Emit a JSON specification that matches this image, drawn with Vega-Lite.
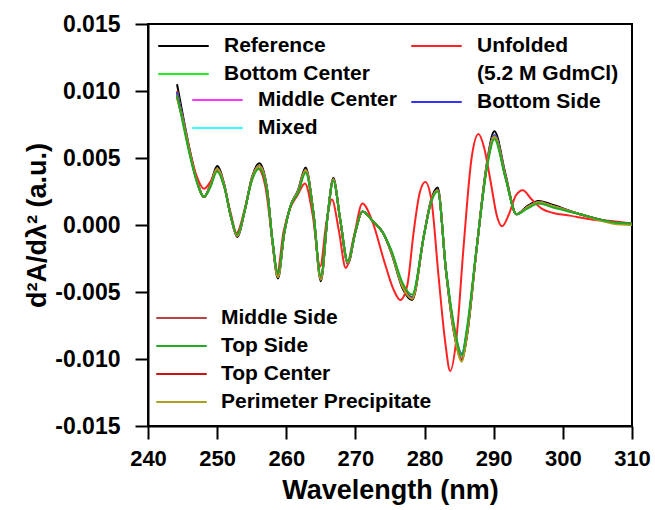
{
  "$schema": "https://vega.github.io/schema/vega-lite/v6.json",
  "width": 484,
  "height": 402,
  "autosize": {"type": "none"},
  "padding": {"left": 148, "top": 24, "right": 23, "bottom": 84},
  "background": "white",
  "datasets": {
    "native": [
      {"w":244.2,"Reference":0.0105,"Bottom Center":0.0100,"Middle Center":0.0098,"Mixed":0.0097,"Bottom Side":0.0099,"Middle Side":0.0095,"Top Side":0.0097,"Top Center":0.0096,"Perimeter Precipitate":0.0095},
      {"w":245,"Reference":0.0083,"Bottom Center":0.0080,"Middle Center":0.0080,"Mixed":0.0080,"Bottom Side":0.0080,"Middle Side":0.0079,"Top Side":0.0077,"Top Center":0.0079,"Perimeter Precipitate":0.0079},
      {"w":246,"Reference":0.0057,"Bottom Center":0.0055,"Middle Center":0.0055,"Mixed":0.0055,"Bottom Side":0.0055,"Middle Side":0.0055,"Top Side":0.0053,"Top Center":0.0055,"Perimeter Precipitate":0.0055},
      {"w":247,"Reference":0.0035,"Bottom Center":0.0034,"Middle Center":0.0034,"Mixed":0.0034,"Bottom Side":0.0034,"Middle Side":0.0034,"Top Side":0.0033,"Top Center":0.0034,"Perimeter Precipitate":0.0034},
      {"w":248.1,"Reference":0.0021,"Bottom Center":0.0021,"Middle Center":0.0021,"Mixed":0.0021,"Bottom Side":0.0021,"Middle Side":0.0021,"Top Side":0.0021,"Top Center":0.0021,"Perimeter Precipitate":0.0021},
      {"w":249,"Reference":0.0030,"Bottom Center":0.0029,"Middle Center":0.0029,"Mixed":0.0029,"Bottom Side":0.0029,"Middle Side":0.0029,"Top Side":0.0028,"Top Center":0.0029,"Perimeter Precipitate":0.0029},
      {"w":250,"Reference":0.0044,"Bottom Center":0.0042,"Middle Center":0.0042,"Mixed":0.0042,"Bottom Side":0.0042,"Middle Side":0.0042,"Top Side":0.0040,"Top Center":0.0042,"Perimeter Precipitate":0.0042},
      {"w":251,"Reference":0.0031,"Bottom Center":0.0030,"Middle Center":0.0030,"Mixed":0.0030,"Bottom Side":0.0030,"Middle Side":0.0030,"Top Side":0.0029,"Top Center":0.0030,"Perimeter Precipitate":0.0030},
      {"w":252,"Reference":0.0006,"Bottom Center":0.0006,"Middle Center":0.0006,"Mixed":0.0006,"Bottom Side":0.0006,"Middle Side":0.0006,"Top Side":0.0006,"Top Center":0.0006,"Perimeter Precipitate":0.0006},
      {"w":252.9,"Reference":-0.0009,"Bottom Center":-0.0008,"Middle Center":-0.0008,"Mixed":-0.0008,"Bottom Side":-0.0008,"Middle Side":-0.0008,"Top Side":-0.0007,"Top Center":-0.0008,"Perimeter Precipitate":-0.0008},
      {"w":254,"Reference":0.0011,"Bottom Center":0.0011,"Middle Center":0.0011,"Mixed":0.0011,"Bottom Side":0.0011,"Middle Side":0.0011,"Top Side":0.0011,"Top Center":0.0011,"Perimeter Precipitate":0.0011},
      {"w":255,"Reference":0.0035,"Bottom Center":0.0034,"Middle Center":0.0034,"Mixed":0.0034,"Bottom Side":0.0034,"Middle Side":0.0034,"Top Side":0.0033,"Top Center":0.0034,"Perimeter Precipitate":0.0034},
      {"w":256.1,"Reference":0.0046,"Bottom Center":0.0044,"Middle Center":0.0044,"Mixed":0.0044,"Bottom Side":0.0044,"Middle Side":0.0044,"Top Side":0.0042,"Top Center":0.0044,"Perimeter Precipitate":0.0044},
      {"w":257.2,"Reference":0.0028,"Bottom Center":0.0027,"Middle Center":0.0027,"Mixed":0.0027,"Bottom Side":0.0027,"Middle Side":0.0027,"Top Side":0.0026,"Top Center":0.0027,"Perimeter Precipitate":0.0027},
      {"w":258,"Reference":-0.0013,"Bottom Center":-0.0012,"Middle Center":-0.0012,"Mixed":-0.0012,"Bottom Side":-0.0012,"Middle Side":-0.0012,"Top Side":-0.0011,"Top Center":-0.0012,"Perimeter Precipitate":-0.0012},
      {"w":258.8,"Reference":-0.0040,"Bottom Center":-0.0038,"Middle Center":-0.0038,"Mixed":-0.0038,"Bottom Side":-0.0038,"Middle Side":-0.0038,"Top Side":-0.0036,"Top Center":-0.0038,"Perimeter Precipitate":-0.0039},
      {"w":259.7,"Reference":-0.0006,"Bottom Center":-0.0006,"Middle Center":-0.0006,"Mixed":-0.0006,"Bottom Side":-0.0006,"Middle Side":-0.0006,"Top Side":-0.0006,"Top Center":-0.0006,"Perimeter Precipitate":-0.0006},
      {"w":260.6,"Reference":0.0014,"Bottom Center":0.0014,"Middle Center":0.0014,"Mixed":0.0014,"Bottom Side":0.0014,"Middle Side":0.0014,"Top Side":0.0014,"Top Center":0.0014,"Perimeter Precipitate":0.0014},
      {"w":261.7,"Reference":0.0026,"Bottom Center":0.0025,"Middle Center":0.0025,"Mixed":0.0025,"Bottom Side":0.0025,"Middle Side":0.0025,"Top Side":0.0024,"Top Center":0.0025,"Perimeter Precipitate":0.0025},
      {"w":262.8,"Reference":0.0043,"Bottom Center":0.0041,"Middle Center":0.0041,"Mixed":0.0041,"Bottom Side":0.0041,"Middle Side":0.0041,"Top Side":0.0039,"Top Center":0.0041,"Perimeter Precipitate":0.0041},
      {"w":263.9,"Reference":0.0010,"Bottom Center":0.0010,"Middle Center":0.0010,"Mixed":0.0010,"Bottom Side":0.0010,"Middle Side":0.0010,"Top Side":0.0010,"Top Center":0.0010,"Perimeter Precipitate":0.0010},
      {"w":265,"Reference":-0.0042,"Bottom Center":-0.0040,"Middle Center":-0.0040,"Mixed":-0.0040,"Bottom Side":-0.0040,"Middle Side":-0.0040,"Top Side":-0.0038,"Top Center":-0.0040,"Perimeter Precipitate":-0.0041},
      {"w":266,"Reference":0.0008,"Bottom Center":0.0008,"Middle Center":0.0008,"Mixed":0.0008,"Bottom Side":0.0008,"Middle Side":0.0008,"Top Side":0.0008,"Top Center":0.0008,"Perimeter Precipitate":0.0008},
      {"w":266.8,"Reference":0.0035,"Bottom Center":0.0034,"Middle Center":0.0034,"Mixed":0.0034,"Bottom Side":0.0034,"Middle Side":0.0034,"Top Side":0.0033,"Top Center":0.0034,"Perimeter Precipitate":0.0034},
      {"w":267.8,"Reference":0.0004,"Bottom Center":0.0004,"Middle Center":0.0004,"Mixed":0.0004,"Bottom Side":0.0004,"Middle Side":0.0004,"Top Side":0.0004,"Top Center":0.0004,"Perimeter Precipitate":0.0004},
      {"w":268.9,"Reference":-0.0029,"Bottom Center":-0.0028,"Middle Center":-0.0028,"Mixed":-0.0028,"Bottom Side":-0.0028,"Middle Side":-0.0028,"Top Side":-0.0027,"Top Center":-0.0028,"Perimeter Precipitate":-0.0028},
      {"w":270,"Reference":-0.0005,"Bottom Center":-0.0005,"Middle Center":-0.0005,"Mixed":-0.0005,"Bottom Side":-0.0005,"Middle Side":-0.0005,"Top Side":-0.0005,"Top Center":-0.0005,"Perimeter Precipitate":-0.0005},
      {"w":271,"Reference":0.0010,"Bottom Center":0.0010,"Middle Center":0.0010,"Mixed":0.0010,"Bottom Side":0.0010,"Middle Side":0.0010,"Top Side":0.0010,"Top Center":0.0010,"Perimeter Precipitate":0.0010},
      {"w":272.5,"Reference":0.0003,"Bottom Center":0.0003,"Middle Center":0.0003,"Mixed":0.0003,"Bottom Side":0.0003,"Middle Side":0.0003,"Top Side":0.0003,"Top Center":0.0003,"Perimeter Precipitate":0.0003},
      {"w":274,"Reference":-0.0006,"Bottom Center":-0.0006,"Middle Center":-0.0006,"Mixed":-0.0006,"Bottom Side":-0.0006,"Middle Side":-0.0006,"Top Side":-0.0006,"Top Center":-0.0006,"Perimeter Precipitate":-0.0006},
      {"w":275.2,"Reference":-0.0021,"Bottom Center":-0.0020,"Middle Center":-0.0020,"Mixed":-0.0020,"Bottom Side":-0.0020,"Middle Side":-0.0020,"Top Side":-0.0019,"Top Center":-0.0020,"Perimeter Precipitate":-0.0020},
      {"w":276.8,"Reference":-0.0047,"Bottom Center":-0.0045,"Middle Center":-0.0045,"Mixed":-0.0045,"Bottom Side":-0.0045,"Middle Side":-0.0045,"Top Side":-0.0043,"Top Center":-0.0045,"Perimeter Precipitate":-0.0046},
      {"w":278.2,"Reference":-0.0056,"Bottom Center":-0.0054,"Middle Center":-0.0054,"Mixed":-0.0054,"Bottom Side":-0.0054,"Middle Side":-0.0055,"Top Side":-0.0052,"Top Center":-0.0055,"Perimeter Precipitate":-0.0055},
      {"w":279.9,"Reference":-0.0008,"Bottom Center":-0.0008,"Middle Center":-0.0008,"Mixed":-0.0008,"Bottom Side":-0.0008,"Middle Side":-0.0008,"Top Side":-0.0008,"Top Center":-0.0008,"Perimeter Precipitate":-0.0008},
      {"w":280.9,"Reference":0.0018,"Bottom Center":0.0017,"Middle Center":0.0017,"Mixed":0.0017,"Bottom Side":0.0017,"Middle Side":0.0017,"Top Side":0.0016,"Top Center":0.0017,"Perimeter Precipitate":0.0017},
      {"w":281.9,"Reference":0.0028,"Bottom Center":0.0026,"Middle Center":0.0026,"Mixed":0.0026,"Bottom Side":0.0026,"Middle Side":0.0026,"Top Side":0.0025,"Top Center":0.0026,"Perimeter Precipitate":0.0026},
      {"w":283.1,"Reference":-0.0035,"Bottom Center":-0.0034,"Middle Center":-0.0034,"Mixed":-0.0034,"Bottom Side":-0.0034,"Middle Side":-0.0034,"Top Side":-0.0033,"Top Center":-0.0034,"Perimeter Precipitate":-0.0034},
      {"w":284.2,"Reference":-0.0079,"Bottom Center":-0.0076,"Middle Center":-0.0076,"Mixed":-0.0076,"Bottom Side":-0.0075,"Middle Side":-0.0077,"Top Side":-0.0073,"Top Center":-0.0077,"Perimeter Precipitate":-0.0078},
      {"w":285.4,"Reference":-0.0100,"Bottom Center":-0.0098,"Middle Center":-0.0098,"Mixed":-0.0098,"Bottom Side":-0.0096,"Middle Side":-0.0100,"Top Side":-0.0097,"Top Center":-0.0101,"Perimeter Precipitate":-0.0102},
      {"w":286.1,"Reference":-0.0084,"Bottom Center":-0.0081,"Middle Center":-0.0081,"Mixed":-0.0081,"Bottom Side":-0.0080,"Middle Side":-0.0082,"Top Side":-0.0078,"Top Center":-0.0083,"Perimeter Precipitate":-0.0083},
      {"w":287.5,"Reference":-0.0019,"Bottom Center":-0.0019,"Middle Center":-0.0019,"Mixed":-0.0019,"Bottom Side":-0.0019,"Middle Side":-0.0019,"Top Side":-0.0018,"Top Center":-0.0019,"Perimeter Precipitate":-0.0019},
      {"w":289,"Reference":0.0046,"Bottom Center":0.0044,"Middle Center":0.0044,"Mixed":0.0044,"Bottom Side":0.0044,"Middle Side":0.0044,"Top Side":0.0042,"Top Center":0.0044,"Perimeter Precipitate":0.0044},
      {"w":290.1,"Reference":0.0070,"Bottom Center":0.0067,"Middle Center":0.0067,"Mixed":0.0067,"Bottom Side":0.0067,"Middle Side":0.0066,"Top Side":0.0064,"Top Center":0.0066,"Perimeter Precipitate":0.0066},
      {"w":291.7,"Reference":0.0038,"Bottom Center":0.0036,"Middle Center":0.0036,"Mixed":0.0036,"Bottom Side":0.0036,"Middle Side":0.0036,"Top Side":0.0035,"Top Center":0.0036,"Perimeter Precipitate":0.0036},
      {"w":293.3,"Reference":0.0008,"Bottom Center":0.0008,"Middle Center":0.0008,"Mixed":0.0008,"Bottom Side":0.0008,"Middle Side":0.0008,"Top Side":0.0008,"Top Center":0.0008,"Perimeter Precipitate":0.0008},
      {"w":294.8,"Reference":0.0014,"Bottom Center":0.0013,"Middle Center":0.0013,"Mixed":0.0013,"Bottom Side":0.0013,"Middle Side":0.0013,"Top Side":0.0012,"Top Center":0.0013,"Perimeter Precipitate":0.0013},
      {"w":296.5,"Reference":0.0018,"Bottom Center":0.0017,"Middle Center":0.0017,"Mixed":0.0017,"Bottom Side":0.0017,"Middle Side":0.0017,"Top Side":0.0016,"Top Center":0.0017,"Perimeter Precipitate":0.0017},
      {"w":298.6,"Reference":0.0015,"Bottom Center":0.0014,"Middle Center":0.0014,"Mixed":0.0014,"Bottom Side":0.0014,"Middle Side":0.0014,"Top Side":0.0013,"Top Center":0.0014,"Perimeter Precipitate":0.0014},
      {"w":302.5,"Reference":0.0008,"Bottom Center":0.0008,"Middle Center":0.0008,"Mixed":0.0008,"Bottom Side":0.0008,"Middle Side":0.0008,"Top Side":0.0008,"Top Center":0.0008,"Perimeter Precipitate":0.0008},
      {"w":307.3,"Reference":0.0002,"Bottom Center":0.0002,"Middle Center":0.0002,"Mixed":0.0002,"Bottom Side":0.0002,"Middle Side":0.0002,"Top Side":0.0002,"Top Center":0.0002,"Perimeter Precipitate":0.0001},
      {"w":310,"Reference":0.0001,"Bottom Center":0.0001,"Middle Center":0.0001,"Mixed":0.0001,"Bottom Side":0.0001,"Middle Side":0.0001,"Top Side":0.0001,"Top Center":0.0001,"Perimeter Precipitate":0.0000}
    ],
    "unf": [
      {"w":244.2,"Unfolded":0.0100},
      {"w":245,"Unfolded":0.0079},
      {"w":246,"Unfolded":0.0056},
      {"w":247,"Unfolded":0.0037},
      {"w":248.1,"Unfolded":0.0027},
      {"w":249,"Unfolded":0.0032},
      {"w":250,"Unfolded":0.0041},
      {"w":251,"Unfolded":0.0029},
      {"w":252,"Unfolded":0.0008},
      {"w":252.8,"Unfolded":-0.0006},
      {"w":254,"Unfolded":0.0012},
      {"w":255,"Unfolded":0.0033},
      {"w":255.9,"Unfolded":0.0042},
      {"w":257,"Unfolded":0.0028},
      {"w":258,"Unfolded":-0.0012},
      {"w":258.7,"Unfolded":-0.0035},
      {"w":259.6,"Unfolded":-0.0005},
      {"w":260.6,"Unfolded":0.0013},
      {"w":261.6,"Unfolded":0.0022},
      {"w":262.7,"Unfolded":0.0031},
      {"w":263.8,"Unfolded":0.0008},
      {"w":264.9,"Unfolded":-0.0031},
      {"w":265.8,"Unfolded":0.0002},
      {"w":266.6,"Unfolded":0.0019},
      {"w":267.6,"Unfolded":-0.0004},
      {"w":268.6,"Unfolded":-0.0032},
      {"w":269.8,"Unfolded":-0.0008},
      {"w":271,"Unfolded":0.0016},
      {"w":272.5,"Unfolded":0.0002},
      {"w":274.1,"Unfolded":-0.0026},
      {"w":275.5,"Unfolded":-0.0048},
      {"w":276.5,"Unfolded":-0.0056},
      {"w":277.5,"Unfolded":-0.0045},
      {"w":278.4,"Unfolded":-0.0006},
      {"w":279.3,"Unfolded":0.0024},
      {"w":280.1,"Unfolded":0.0032},
      {"w":281,"Unfolded":0.0018},
      {"w":282,"Unfolded":-0.0037},
      {"w":283,"Unfolded":-0.0088},
      {"w":283.7,"Unfolded":-0.0109},
      {"w":284.6,"Unfolded":-0.0085},
      {"w":285.6,"Unfolded":-0.0019},
      {"w":286.8,"Unfolded":0.0050},
      {"w":287.8,"Unfolded":0.0068},
      {"w":288.6,"Unfolded":0.0058},
      {"w":289.5,"Unfolded":0.0034},
      {"w":290.5,"Unfolded":0.0006},
      {"w":291.2,"Unfolded":-0.0001},
      {"w":292.2,"Unfolded":0.0008},
      {"w":293.2,"Unfolded":0.0022},
      {"w":294.2,"Unfolded":0.0026},
      {"w":295.5,"Unfolded":0.0019},
      {"w":297,"Unfolded":0.0012},
      {"w":298.6,"Unfolded":0.0009},
      {"w":301,"Unfolded":0.0007},
      {"w":304.4,"Unfolded":0.0004},
      {"w":307,"Unfolded":0.0003},
      {"w":310,"Unfolded":0.0001}
    ]
  },
  "encoding": {
    "x": {
      "field": "w", "type": "quantitative",
      "scale": {"domain": [240, 310], "nice": false, "zero": false},
      "axis": {"values": [240, 250, 260, 270, 280, 290, 300, 310], "title": "Wavelength (nm)", "titlePadding": 8, "labelPadding": 9, "labelFontSize": 22, "labelFlush": false,
        "grid": false, "tickSize": 13, "tickWidth": 2, "tickColor": "#000000"}
    },
    "y": {
      "field": "value", "type": "quantitative",
      "scale": {"domain": [-0.015, 0.015], "nice": false, "zero": false},
      "axis": {"values": [-0.015, -0.01, -0.005, 0, 0.005, 0.01, 0.015], "labelExpr": "replace(format(datum.value, '.3f'), '\u2212', '-')", "title": "d\u00b2A/d\u03bb\u00b2 (a.u.)", "titlePadding": 3, "labelPadding": 15, "labelFontSize": 23, "labelFlush": false,
        "grid": false, "tickSize": 13, "tickWidth": 2, "tickColor": "#000000"}
    }
  },
  "layer": [
    {
      "data": {"name": "native"},
      "transform": [{"fold": ["Reference", "Bottom Center"], "as": ["series", "value"]}],
      "mark": {"type": "line", "interpolate": "monotone", "strokeWidth": 2},
      "encoding": {
        "color": {"field": "series", "type": "nominal",
          "scale": {"domain": ["Reference", "Bottom Center"], "range": ["#000000", "#22ee22"]},
          "legend": {"orient": "none", "legendX": 9, "legendY": 11.5, "title": null}}
      }
    },
    {
      "data": {"name": "native"},
      "transform": [{"fold": ["Middle Center", "Mixed"], "as": ["series", "value"]}],
      "mark": {"type": "line", "interpolate": "monotone", "strokeWidth": 2},
      "encoding": {
        "color": {"field": "series", "type": "nominal",
          "scale": {"domain": ["Middle Center", "Mixed"], "range": ["#ff33ff", "#33ffff"]},
          "legend": {"orient": "none", "legendX": 43, "legendY": 65.5, "title": null}}
      }
    },
    {
      "layer": [
        {
          "data": {"name": "unf"},
          "transform": [{"fold": ["Unfolded"], "as": ["series", "value"]}],
          "mark": {"type": "line", "interpolate": "monotone", "strokeWidth": 2},
          "encoding": {
            "color": {"field": "series", "type": "nominal",
              "scale": {"domain": ["Unfolded", "(5.2 M GdmCl)", "Bottom Side"], "range": ["#ff2222", "rgba(255,255,255,0)", "#3333ff"]},
              "legend": {"orient": "none", "legendX": 262, "legendY": 11.5, "title": null}}
          }
        },
        {
          "data": {"name": "native"},
          "transform": [{"fold": ["Bottom Side"], "as": ["series", "value"]}],
          "mark": {"type": "line", "interpolate": "monotone", "strokeWidth": 2},
          "encoding": {
            "color": {"field": "series", "type": "nominal"}
          }
        }
      ]
    },
    {
      "data": {"name": "native"},
      "transform": [{"fold": ["Middle Side", "Top Center", "Perimeter Precipitate", "Top Side"], "as": ["series", "value"]}],
      "mark": {"type": "line", "interpolate": "monotone", "strokeWidth": 2},
      "encoding": {
        "color": {"field": "series", "type": "nominal",
          "scale": {"domain": ["Middle Side", "Top Side", "Top Center", "Perimeter Precipitate"], "range": ["#b84444", "#22aa22", "#cc1111", "#a8a020"]},
          "legend": {"orient": "none", "legendX": 7, "legendY": 283.5, "title": null, "labelOffset": 13}}
      }
    }
  ],
  "resolve": {"scale": {"color": "independent"}},
  "config": {
    "font": "Liberation Sans",
    "view": {"stroke": "#000000", "strokeWidth": 2},
    "axis": {
      "domainColor": "#000000", "domainWidth": 2,
      "labelFont": "Liberation Sans", "labelFontWeight": "bold", "labelColor": "#000000",
      "titleFont": "Liberation Sans", "titleFontWeight": "bold", "titleFontSize": 27, "titleColor": "#000000"
    },
    "legend": {
      "symbolType": "stroke", "symbolSize": 2550, "symbolStrokeWidth": 2,
      "labelFont": "Liberation Sans", "labelFontWeight": "bold", "labelFontSize": 21, "labelColor": "#000000",
      "labelOffset": 14, "rowPadding": 6, "clipHeight": 21, "padding": 0, "labelLimit": 400
    }
  }
}
